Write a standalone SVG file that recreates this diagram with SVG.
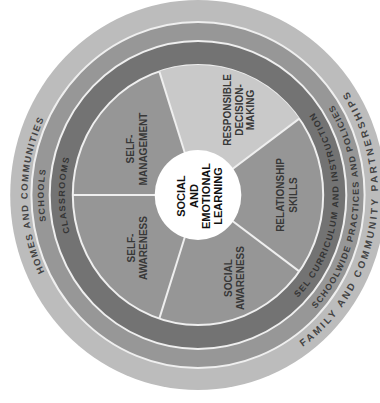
<svg xmlns="http://www.w3.org/2000/svg" width="380" height="403" viewBox="0 0 380 403">
<style>
.ln{stroke:#efefef;stroke-width:2;vector-effect:non-scaling-stroke}
.dv{stroke:#efefef;stroke-width:2;fill:none;vector-effect:non-scaling-stroke}
.ro{font-family:"Liberation Sans",Arial,sans-serif;font-weight:bold;font-size:10px;fill:#444;letter-spacing:2.6px}
.rl{font-family:"Liberation Sans",Arial,sans-serif;font-weight:bold;font-size:9.5px;fill:#444;letter-spacing:1.5px}
.rm{font-family:"Liberation Sans",Arial,sans-serif;font-weight:bold;font-size:9px;fill:#3c3c3c;letter-spacing:1.2px}
.lb{font-family:"Liberation Sans",Arial,sans-serif;font-weight:bold;font-size:10px;fill:#383838;text-anchor:middle}
.core{font-family:"Liberation Sans",Arial,sans-serif;font-weight:bold;font-size:11px;fill:#111;text-anchor:middle}
</style>
<defs>
<path id="pHomes" d="M -88.5 153.3 A 177 177 0 0 1 -88.5 -153.3"/>
<path id="pSchools" d="M -80 138.6 A 160 160 0 0 1 -80 -138.6"/>
<path id="pClass" d="M -69.25 119.9 A 138.5 138.5 0 0 1 -69.25 -119.9"/>
<path id="pFamily" d="M 32.47 184.16 A 187 187 0 0 0 32.47 -184.16"/>
<path id="pSchoolwide" d="M 29 164.46 A 167 167 0 0 0 29 -164.46"/>
<path id="pSel" d="M 25.35 143.78 A 146 146 0 0 0 25.35 -143.78"/>
</defs>
<rect width="380" height="403" fill="#ffffff"/>
<g id="wheel" transform="translate(198,195) scale(0.963,1)">
  <g id="ring-homes">
    <circle r="195" fill="#bcbcbc"/>
    <text class="rl"><textPath href="#pHomes" startOffset="50%" text-anchor="middle">HOMES AND COMMUNITIES</textPath></text>
    <text class="ro"><textPath href="#pFamily" startOffset="228.5" text-anchor="middle">FAMILY AND COMMUNITY PARTNERSHIPS</textPath></text>
  </g>
  <g id="ring-schools">
    <circle r="173" class="ln" fill="#979797"/>
    <text class="rm"><textPath href="#pSchools" startOffset="50%" text-anchor="middle">SCHOOLS</textPath></text>
    <text class="rm"><textPath href="#pSchoolwide" startOffset="218.6" text-anchor="middle">SCHOOLWIDE PRACTICES AND POLICIES</textPath></text>
  </g>
  <g id="ring-classrooms">
    <circle r="154" class="ln" fill="#737373"/>
    <text class="rm" style="fill:#353535"><textPath href="#pClass" startOffset="50%" text-anchor="middle">CLASSROOMS</textPath></text>
    <text class="rm" style="fill:#353535"><textPath href="#pSel" startOffset="191.1" text-anchor="middle">SEL CURRICULUM AND INSTRUCTION</textPath></text>
  </g>
  <g id="segments">
    <circle r="130" class="ln" fill="#969696"/>
    <path id="seg-rdm" d="M0 0 L-40.17 -123.64 A130 130 0 0 1 105.17 -76.41 Z" fill="#c9c9c9"/>
  </g>
  <g id="connectors">
    <line class="dv" x1="0" y1="0" x2="-130" y2="0"/>
    <line class="dv" x1="0" y1="0" x2="-40.17" y2="-123.64"/>
    <line class="dv" x1="0" y1="0" x2="105.17" y2="-76.41"/>
    <line class="dv" x1="0" y1="0" x2="105.17" y2="76.41"/>
    <line class="dv" x1="0" y1="0" x2="-40.17" y2="123.64"/>
  </g>
  <circle id="hub" r="45" fill="#ffffff"/>
</g>
<g id="center-label" transform="translate(199,196) rotate(-90)">
  <text class="core" x="0" y="-14">SOCIAL</text>
  <text class="core" x="0" y="-1.5">AND</text>
  <text class="core" x="0" y="10.5">EMOTIONAL</text>
  <text class="core" x="0" y="22.5">LEARNING</text>
</g>
<g id="self-management" transform="translate(137,149) rotate(-90)">
  <text class="lb" x="0" y="-3">SELF-</text>
  <text class="lb" x="0" y="10">MANAGEMENT</text>
</g>
<g id="responsible-decision-making" transform="translate(238,110) rotate(-90)">
  <text class="lb" x="0" y="-7">RESPONSIBLE</text>
  <text class="lb" x="0" y="4.5">DECISION-</text>
  <text class="lb" x="0" y="16">MAKING</text>
</g>
<g id="relationship-skills" transform="translate(287,195) rotate(-90)">
  <text class="lb" x="0" y="-3">RELATIONSHIP</text>
  <text class="lb" x="0" y="10">SKILLS</text>
</g>
<g id="social-awareness" transform="translate(234,278) rotate(-90)">
  <text class="lb" x="0" y="-2">SOCIAL</text>
  <text class="lb" x="0" y="10">AWARENESS</text>
</g>
<g id="self-awareness" transform="translate(137,248) rotate(-90)">
  <text class="lb" x="0" y="-2">SELF-</text>
  <text class="lb" x="0" y="10">AWARENESS</text>
</g>
</svg>
